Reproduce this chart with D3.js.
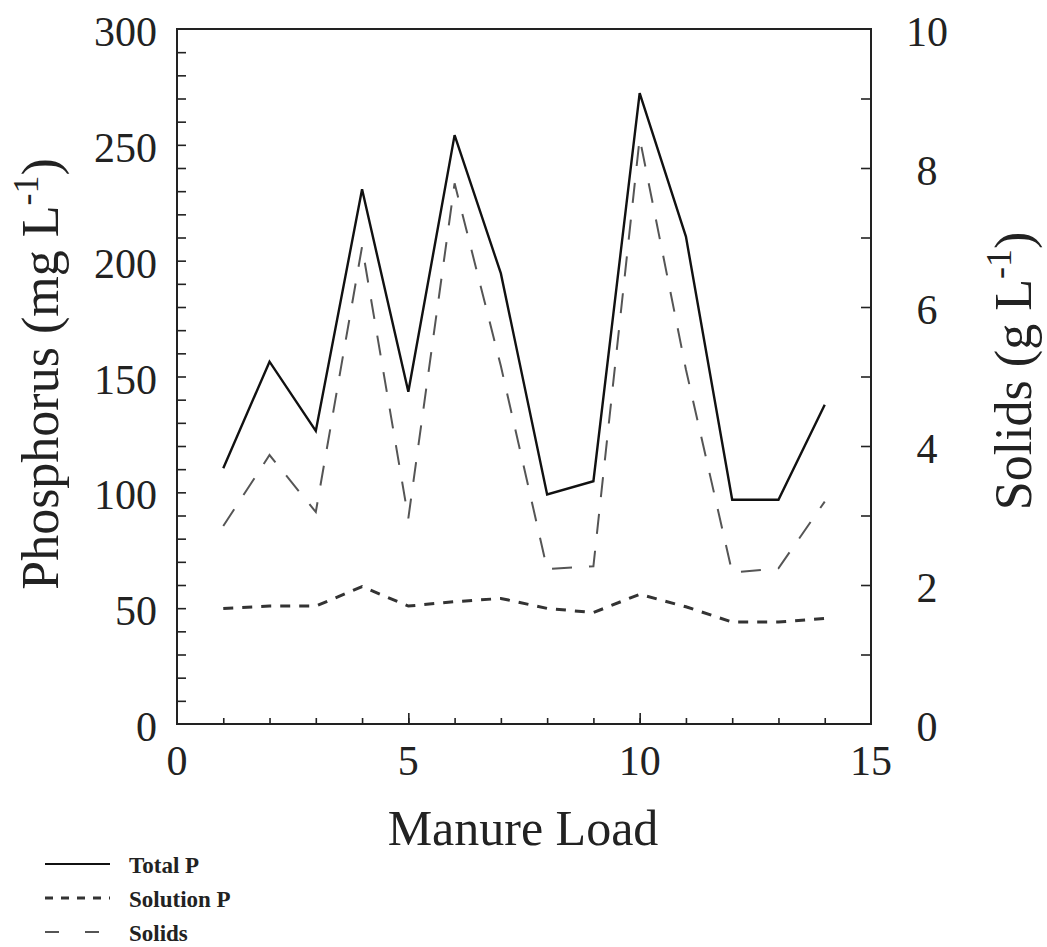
<!DOCTYPE html>
<html>
<head>
<meta charset="utf-8">
<script src="https://cdn.jsdelivr.net/npm/d3@7"></script>
<style>
  body { margin: 0; background: #fff; }
  svg { display: block; }
  svg text { font-family: "Liberation Serif", "DejaVu Serif", Times, serif; fill: #222; }
</style>
</head>
<body>
<svg id="chart" width="1047" height="947"></svg>
<script>
// Data
const manureLoad = [1, 2, 3, 4, 5, 6, 7, 8, 9, 10, 11, 12, 13, 14];
const totalP = [110.4, 156.4, 126.5, 230.8, 143.4, 254.2, 194.5, 99.1, 104.8, 272.3, 210.4, 96.8, 96.8, 137.8];
const solutionP = [49.9, 50.9, 50.9, 59.3, 50.9, 52.8, 54.2, 49.9, 48.1, 56.0, 50.6, 44.0, 44.0, 45.6];
const solids = [2.85, 3.87, 3.05, 6.87, 2.96, 7.78, 5.15, 2.23, 2.27, 8.43, 5.1, 2.18, 2.24, 3.2];
const seriesNames = ["Total P", "Solution P", "Solids"];

const xTickLabels = [0, 5, 10, 15];
const leftTickLabels = [0, 50, 100, 150, 200, 250, 300];
const rightTickLabels = [0, 2, 4, 6, 8, 10];

// Line styles per series (kept apart from the values)
const styles = {
    "Total P":    {stroke: "#111", width: 2.4, dash: null,    legendDash: null},
    "Solution P": {stroke: "#333", width: 3,   dash: "10,9",  legendDash: "8,8"},
    "Solids":     {stroke: "#555", width: 2,   dash: "20,17", legendDash: "14,26"}
};

const svg = d3.select("#chart");
const plotLeft = 177, plotTop = 29, plotRight = 871, plotBottom = 724;

const x = d3.scaleLinear().domain([0, 15]).range([plotLeft, plotRight]);
const yP = d3.scaleLinear().domain([0, 300]).range([plotBottom, plotTop]);
const yS = d3.scaleLinear().domain([0, 10]).range([plotBottom, plotTop]);

// Frame
svg.append("rect")
    .attr("x", plotLeft).attr("y", plotTop)
    .attr("width", plotRight - plotLeft).attr("height", plotBottom - plotTop)
    .attr("fill", "none").attr("stroke", "#222").attr("stroke-width", 2);

// Bottom axis: minor ticks every 1, longer ones where labelled
const xAxisMinor = d3.axisTop(x).tickValues(d3.range(1, 15)).tickSize(6).tickFormat("");
const xAxisMajor = d3.axisTop(x).tickValues([5, 10]).tickSize(11).tickFormat("");
svg.append("g").attr("transform", `translate(0,${plotBottom})`).call(xAxisMinor);
svg.append("g").attr("transform", `translate(0,${plotBottom})`).call(xAxisMajor);

// Left axis ticks every 10, right axis ticks every 1 (both point inward)
const yAxisLeft = d3.axisRight(yP).tickValues(d3.range(10, 300, 10)).tickSize(9).tickFormat("");
const yAxisRight = d3.axisLeft(yS).tickValues(d3.range(1, 10)).tickSize(10).tickFormat("");
svg.append("g").attr("transform", `translate(${plotLeft},0)`).call(yAxisLeft);
svg.append("g").attr("transform", `translate(${plotRight},0)`).call(yAxisRight);

svg.selectAll(".domain").remove();
svg.selectAll(".tick line").attr("stroke", "#222").attr("stroke-width", 1.6);

// Tick labels
svg.append("g").selectAll("text")
    .data(xTickLabels)
    .join("text")
    .attr("x", d => x(d))
    .attr("y", 775)
    .attr("text-anchor", "middle")
    .attr("font-size", 42)
    .text(d => d);

svg.append("g").selectAll("text")
    .data(leftTickLabels)
    .join("text")
    .attr("x", 157)
    .attr("y", d => yP(d) + 17)
    .attr("text-anchor", "end")
    .attr("font-size", 42)
    .text(d => d);

svg.append("g").selectAll("text")
    .data(rightTickLabels)
    .join("text")
    .attr("x", 927)
    .attr("y", d => yS(d) + 17)
    .attr("text-anchor", "middle")
    .attr("font-size", 42)
    .text(d => d);

// Axis titles
svg.append("text")
    .attr("x", 523).attr("y", 845)
    .attr("text-anchor", "middle")
    .attr("font-size", 50)
    .text("Manure Load");

const leftTitle = svg.append("text")
    .attr("transform", "translate(58,374) rotate(-90)")
    .attr("text-anchor", "middle")
    .attr("font-size", 52);
leftTitle.append("tspan").text("Phosphorus (mg L");
leftTitle.append("tspan").attr("font-size", 36).attr("dy", -20).text("-1");
leftTitle.append("tspan").attr("dy", 20).text(")");

const rightTitle = svg.append("text")
    .attr("transform", "translate(1031,371) rotate(-90)")
    .attr("text-anchor", "middle")
    .attr("font-size", 52);
rightTitle.append("tspan").text("Solids (g L");
rightTitle.append("tspan").attr("font-size", 36).attr("dy", -20).text("-1");
rightTitle.append("tspan").attr("dy", 20).text(")");

// Series lines
const series = [
    {name: "Total P", values: totalP, y: yP},
    {name: "Solution P", values: solutionP, y: yP},
    {name: "Solids", values: solids, y: yS}
];

series.forEach(s => {
    const line = d3.line()
        .x((d, i) => x(manureLoad[i]))
        .y(d => s.y(d));
    const st = styles[s.name];
    svg.append("path")
        .attr("d", line(s.values))
        .attr("fill", "none")
        .attr("stroke", st.stroke)
        .attr("stroke-width", st.width)
        .attr("stroke-dasharray", st.dash)
        .attr("stroke-linejoin", "miter");
});

// Legend
const legend = svg.append("g").attr("transform", "translate(45,864)");
seriesNames.forEach((name, i) => {
    const st = styles[name];
    legend.append("line")
        .attr("x1", 0).attr("x2", 65)
        .attr("y1", i * 34).attr("y2", i * 34)
        .attr("stroke", st.stroke)
        .attr("stroke-width", name === "Solution P" ? 3 : 2.2)
        .attr("stroke-dasharray", st.legendDash);
    legend.append("text")
        .attr("x", 84).attr("y", i * 34 + 9)
        .attr("font-size", 23)
        .attr("font-weight", "bold")
        .text(name);
});
</script>
</body>
</html>
